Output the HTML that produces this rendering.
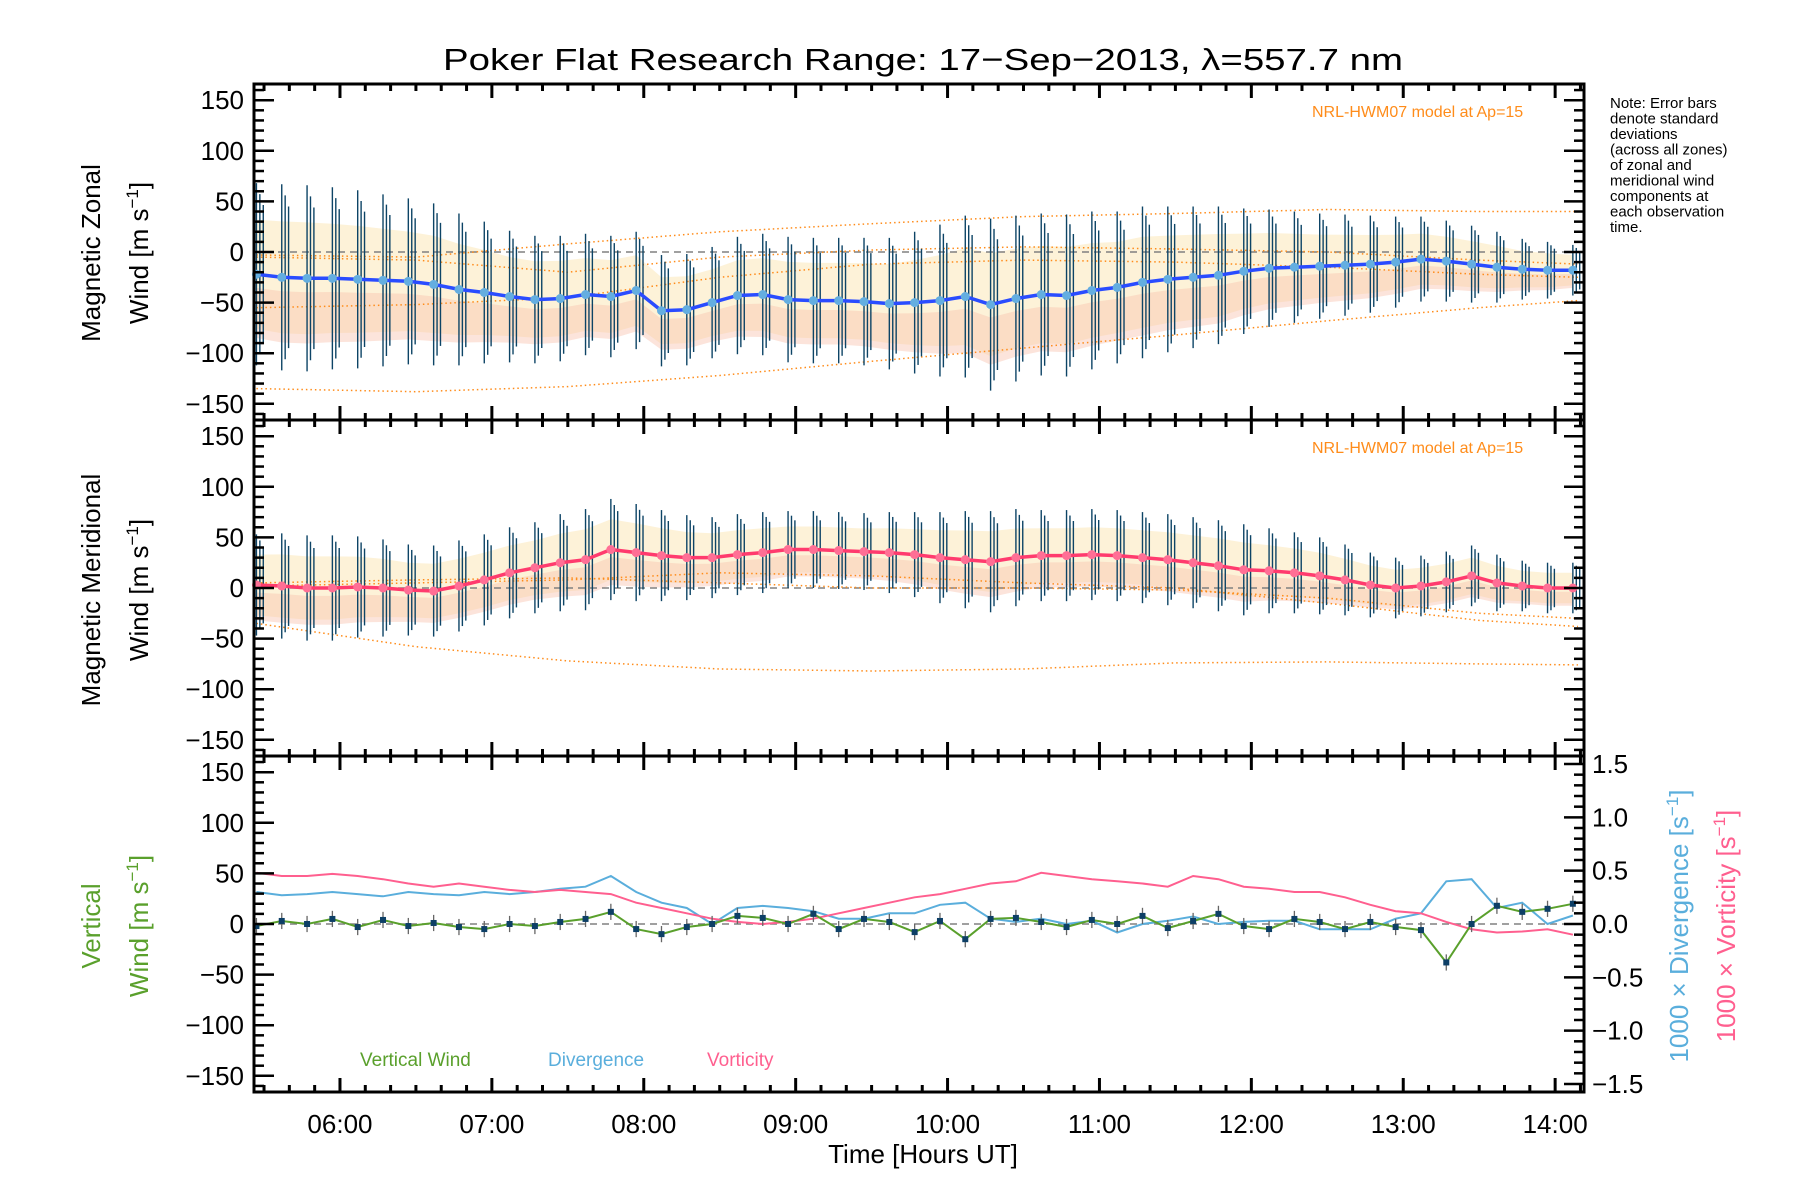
<!DOCTYPE html>
<html><head><meta charset="utf-8"><style>
html,body{margin:0;padding:0;background:#fff;}
svg{display:block;font-family:"Liberation Sans",sans-serif;}
</style></head><body>
<svg id="chart" width="1800" height="1200" viewBox="0 0 1800 1200" xmlns="http://www.w3.org/2000/svg">
<rect width="1800" height="1200" fill="#fff"/>
<text x="923" y="70" font-size="31" text-anchor="middle" fill="#000" textLength="960" lengthAdjust="spacingAndGlyphs">Poker Flat Research Range: 17−Sep−2013, λ=557.7 nm</text>
<g id="g"></g>
<g font-size="15" fill="#000">
<text x="1610" y="108">Note: Error bars</text>
<text x="1610" y="123.5">denote standard</text>
<text x="1610" y="139">deviations</text>
<text x="1610" y="154.5">(across all zones)</text>
<text x="1610" y="170">of zonal and</text>
<text x="1610" y="185.5">meridional wind</text>
<text x="1610" y="201">components at</text>
<text x="1610" y="216.5">each observation</text>
<text x="1610" y="232">time.</text>
</g>
</svg>
<script>
const times=[];for(let i=0;i<53;i++)times.push(5.45+i/6);
const zonalMean=[-22,-25,-26,-26,-27,-28,-29,-32,-37,-40,-44,-47,-46,-42,-44,-38,-58,-57,-50,-43,-42,-47,-48,-48,-49,-51,-50,-48,-44,-52,-46,-42,-43,-38,-35,-30,-27,-25,-23,-19,-16,-15,-14,-13,-12,-10,-7,-9,-12,-15,-17,-18,-18];
const zonalErr=[90,92,92,90,88,85,82,80,75,70,65,63,62,60,60,58,55,55,55,58,60,62,62,62,63,65,70,75,80,85,82,80,80,78,75,75,72,70,68,62,58,55,52,50,48,45,42,40,38,35,30,28,25];
const meridMean=[3,2,0,0,1,0,-2,-3,2,8,15,20,25,28,38,35,32,30,30,33,35,38,38,37,36,35,33,30,28,26,30,32,32,33,32,30,28,25,22,18,17,15,12,8,3,0,2,6,12,5,2,0,0];
const meridErr=[50,52,52,52,50,48,45,45,45,45,45,45,48,50,50,48,45,42,40,40,40,38,38,38,38,40,42,45,48,50,48,45,45,45,45,45,45,45,45,45,42,40,38,35,32,30,30,30,30,28,25,25,25];
const vertWind=[-2,3,0,5,-3,4,-2,1,-3,-5,0,-2,2,5,12,-5,-10,-3,0,8,6,0,10,-5,5,2,-8,3,-15,5,6,2,-3,4,0,8,-4,3,10,-2,-5,5,2,-5,2,-3,-6,-38,0,18,12,15,20];
const divergence=[.30,.27,.28,.30,.28,.26,.30,.28,.27,.30,.28,.30,.33,.35,.45,.30,.20,.15,.0,.15,.17,.15,.12,.05,.05,.10,.10,.18,.20,.05,.02,.05,.0,.03,-.08,.0,.03,.07,.0,.02,.03,.03,-.05,-.05,-.05,.05,.10,.40,.42,.15,.20,.0,.08];
const vorticity=[.48,.45,.45,.47,.45,.42,.38,.35,.38,.35,.32,.30,.32,.30,.28,.20,.15,.10,.05,.02,.0,.02,.05,.10,.15,.20,.25,.28,.33,.38,.40,.48,.45,.42,.40,.38,.35,.45,.42,.35,.33,.30,.30,.25,.18,.12,.10,.02,-.05,-.08,-.07,-.05,-.10];
const modelTimes=[5.45,6.5,7.5,8.5,9.5,10.5,11.5,12.5,13.5,14.15];
const zonalModel1=[-3,-5,8,20,28,35,38,42,40,40];
const zonalModel2=[-5,-8,-20,-5,2,5,3,0,-8,-12];
const zonalModel3=[-55,-52,-45,-25,-12,-8,-10,-15,-22,-25];
const zonalModel4=[-135,-138,-133,-122,-108,-95,-82,-68,-55,-48];
const meridModel1=[5,8,10,5,0,0,-2,-10,-25,-30];
const meridModel2=[2,5,8,15,12,5,0,-15,-32,-38];
const meridModel3=[-35,-58,-72,-80,-82,-80,-74,-73,-75,-76];

const g=document.getElementById('g');
const NS='http://www.w3.org/2000/svg';
function el(tag,attrs,parent){const e=document.createElementNS(NS,tag);for(const k in attrs)e.setAttribute(k,attrs[k]);(parent||g).appendChild(e);return e;}
const L=254,R=1584,T0=5.434,T1=14.19;
const tops=[84,420,756],H=336;
function X(t){return L+(t-T0)/(T1-T0)*(R-L);}
function Y(v,p){return tops[p]+(166-v)/332*H;}
function YR(v){return tops[2]+(1.575-v)/3.15*H;}
function pathOf(xs,ys){return xs.map((x,i)=>(i?'L':'M')+x.toFixed(1)+' '+ys[i].toFixed(1)).join(' ');}

function windPanel(p,mean,err,models,meanCol){
  const band=el('path',{d:pathOf(times.map(X).concat(times.map(X).reverse()),times.map((t,i)=>Y(mean[i]+err[i]*0.6,p)).concat(times.map((t,i)=>Y(mean[i]-err[i]*0.6,p)).reverse()))+'Z',fill:'#fbe8b8',opacity:0.55});
  
  
  const band2=el('path',{d:pathOf(times.map(X).concat(times.map(X).reverse()),times.map((t,i)=>Y(mean[i]-err[i]*0.15,p)).concat(times.map((t,i)=>Y(mean[i]-err[i]*0.7,p)).reverse()))+'Z',fill:'#f8c4b0',opacity:0.45});
  
  
  const z=el('line',{x1:L,x2:R,y1:Y(0,p),y2:Y(0,p),stroke:'#808080','stroke-width':1.5,'stroke-dasharray':'7 5'});
  
  
  models.forEach(m=>{const ml=el('path',{d:pathOf(modelTimes.map(X),m.map(v=>Y(v,p))),fill:'none',stroke:'#ff8c1a','stroke-width':1.5,'stroke-dasharray':'1.5 3'});
    
    });
  times.forEach((t,i)=>{for(const dx of [0,3.6,7.2]){const b=el('line',{x1:X(t+dx/160),x2:X(t+dx/160),y1:Y(mean[i]+err[i]*(1-dx/30),p),y2:Y(mean[i]-err[i]*(1-dx/30),p),stroke:'#0d4466','stroke-width':1.4});
    
    }});
  const ln=el('path',{d:pathOf(times.map(X),mean.map(v=>Y(v,p))),fill:'none',stroke:meanCol,'stroke-width':3.5});
  
  
  times.forEach((t,i)=>{const c=el('circle',{cx:X(t),cy:Y(mean[i],p),r:4.5,fill:p==0?'#64aee0':'#ff6f95'});
    
    });
  const lab=el('text',{x:1312,y:tops[p]+33,'font-size':16,fill:'#ff8c1a'});lab.textContent='NRL-HWM07 model at Ap=15';
  
  
}
windPanel(0,zonalMean,zonalErr,[zonalModel1,zonalModel2,zonalModel3,zonalModel4],'#2a4cff');
windPanel(1,meridMean,meridErr,[meridModel1,meridModel2,meridModel3],'#ff3b6e');

const z3=el('line',{x1:L,x2:R,y1:Y(0,2),y2:Y(0,2),stroke:'#808080','stroke-width':1.5,'stroke-dasharray':'7 5'});


const dv=el('path',{d:pathOf(times.map(X),divergence.map(YR)),fill:'none',stroke:'#5aaedc','stroke-width':2});


const vo=el('path',{d:pathOf(times.map(X),vorticity.map(YR)),fill:'none',stroke:'#ff5f8f','stroke-width':2});


times.forEach((t,i)=>{const b=el('line',{x1:X(t),x2:X(t),y1:Y(vertWind[i]+8,2),y2:Y(vertWind[i]-8,2),stroke:'#666','stroke-width':1.3});
  
  });
const vw=el('path',{d:pathOf(times.map(X),vertWind.map(v=>Y(v,2))),fill:'none',stroke:'#5aa02c','stroke-width':2});


times.forEach((t,i)=>{const r=el('rect',{x:X(t)-3,y:Y(vertWind[i],2)-3,width:6,height:6,fill:'#0d3f66'});
  
  });
[['Vertical Wind',360,'#5aa02c','legend-vertical-wind'],['Divergence',548,'#5aaedc','legend-divergence'],['Vorticity',707,'#ff5f8f','legend-vorticity']].forEach(a=>{
  const t=el('text',{x:a[1],y:1066,'font-size':19,fill:a[2]});t.textContent=a[0];
  
  });

for(let p=0;p<3;p++){
  const top=tops[p],bot=top+H;
  const fr=el('rect',{x:L,y:top,width:R-L,height:H,fill:'none',stroke:'#000','stroke-width':3});
  
  
  for(let v=-160;v<=160;v+=10){const maj=v%50==0;const len=maj?20:10;
    el('line',{x1:L,x2:L+len,y1:Y(v,p),y2:Y(v,p),stroke:'#000','stroke-width':2.5});
    if(p<2)el('line',{x1:R,x2:R-len,y1:Y(v,p),y2:Y(v,p),stroke:'#000','stroke-width':2.5});
    if(maj&&Math.abs(v)<=150){const t=el('text',{x:L-10,y:Y(v,p)+9,'font-size':26,'text-anchor':'end',fill:'#000'});t.textContent=v<0?'−'+(-v):String(v);
      
      }}
  for(let m=330;m<=14*60+10;m+=10){const t=m/60;if(t<T0||t>T1)continue;const maj=m%60==0;const len=maj?14:7;
    el('line',{x1:X(t),x2:X(t),y1:top,y2:top+len,stroke:'#000','stroke-width':3});
    el('line',{x1:X(t),x2:X(t),y1:bot,y2:bot-len,stroke:'#000','stroke-width':3});}
}
for(let k=-15;k<=15;k++){const v=k/10;const maj=k%5==0;const len=maj?20:10;
  el('line',{x1:R,x2:R-len,y1:YR(v),y2:YR(v),stroke:'#000','stroke-width':2.5});
  if(maj){const t=el('text',{x:R+8,y:YR(v)+9,'font-size':26,fill:'#000'});t.textContent=(v<0?'−':'')+Math.abs(v).toFixed(1);
    
    }}
const hours=['06:00','07:00','08:00','09:00','10:00','11:00','12:00','13:00','14:00'];
hours.forEach((h,i)=>{const t=el('text',{x:X(6+i),y:1133,'font-size':26,'text-anchor':'middle',fill:'#000'});t.textContent=h;
  
  });
const xt=el('text',{x:923,y:1163,'font-size':26,'text-anchor':'middle',fill:'#000'});xt.textContent='Time [Hours UT]';



function vtitle(x,cy,txt,col,name,sup){const t=el('text',{x:0,y:0,'font-size':26,'text-anchor':'middle',fill:col,transform:`translate(${x},${cy}) rotate(-90)`});
  t.textContent=txt;
  if(sup){const s=el('tspan',{'font-size':17,dy:-10},t);s.textContent=sup;const e=el('tspan',{dy:10},t);e.textContent=']';}
  
  }
vtitle(100,253,'Magnetic Zonal','#000','y-axis-title-zonal');
vtitle(148,253,'Wind [m s','#000','y-axis-units-zonal','−1');
vtitle(100,590,'Magnetic Meridional','#000','y-axis-title-meridional');
vtitle(148,590,'Wind [m s','#000','y-axis-units-meridional','−1');
vtitle(100,926,'Vertical','#5aa02c','y-axis-title-vertical');
vtitle(148,926,'Wind [m s','#5aa02c','y-axis-units-vertical','−1');
vtitle(1688,926,'1000 × Divergence [s','#5aaedc','right-axis-title-divergence','−1');
vtitle(1735,926,'1000 × Vorticity [s','#ff5f8f','right-axis-title-vorticity','−1');
</script>
</body></html>
